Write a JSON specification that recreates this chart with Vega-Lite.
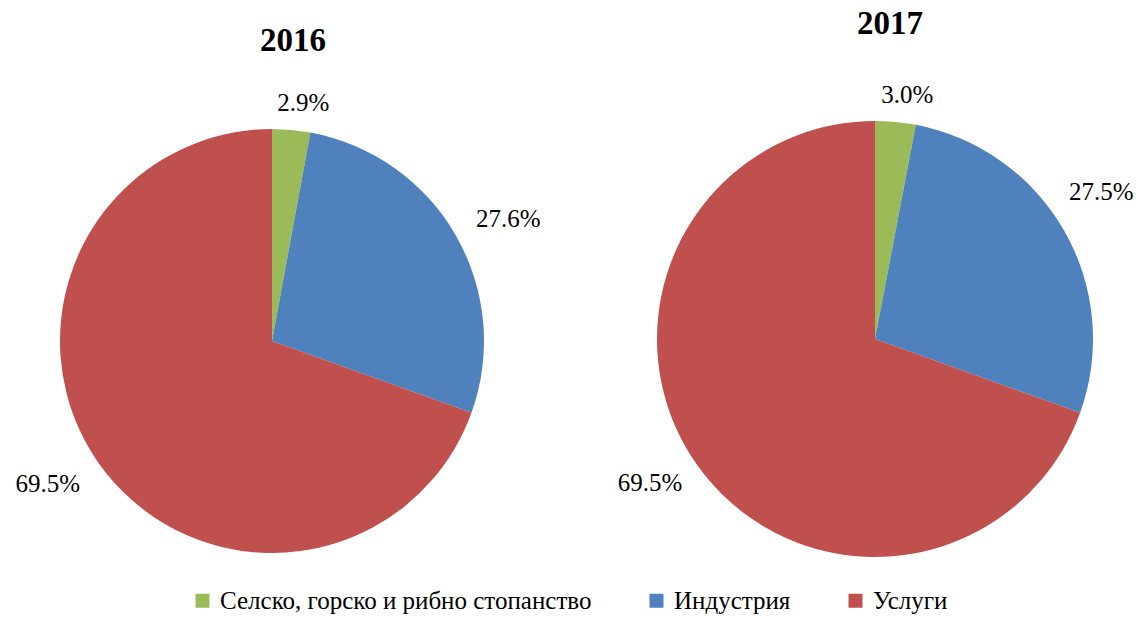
{
  "$schema": "https://vega.github.io/schema/vega-lite/v6.json",
  "padding": {"left": 0, "top": 8, "right": 0, "bottom": 0},
  "background": "white",
  "bounds": "flush",
  "spacing": 113,
  "datasets": {
    "shares": [
      {"year": 2016, "k": 1, "sector": "Селско, горско и рибно стопанство", "value": 2.9, "label": "2.9%"},
      {"year": 2016, "k": 2, "sector": "Индустрия", "value": 27.6, "label": "27.6%"},
      {"year": 2016, "k": 3, "sector": "Услуги", "value": 69.5, "label": "69.5%"},
      {"year": 2017, "k": 1, "sector": "Селско, горско и рибно стопанство", "value": 3.0, "label": "3.0%"},
      {"year": 2017, "k": 2, "sector": "Индустрия", "value": 27.5, "label": "27.5%"},
      {"year": 2017, "k": 3, "sector": "Услуги", "value": 69.5, "label": "69.5%"}
    ]
  },
  "data": {"name": "shares"},
  "hconcat": [
    {
      "width": 544,
      "height": 440,
      "title": {"text": "2016", "frame": "group", "anchor": "middle", "offset": 7, "dx": 21, "font": "Liberation Serif", "fontSize": 33, "fontWeight": "bold", "color": "black"},
      "transform": [{"filter": "datum.year == 2016"}],
      "layer": [
        {
          "mark": {"type": "arc", "outerRadius": 212},
          "encoding": {
            "theta": {"field": "value", "type": "quantitative", "stack": true},
            "order": {"field": "k", "type": "quantitative"},
            "color": {"field": "sector", "type": "nominal", "scale": {"domain": ["Селско, горско и рибно стопанство", "Индустрия", "Услуги"], "range": ["#9BBB59", "#4F81BD", "#C0504D"]}, "sort": null}
          }
        },
        {
          "mark": {"type": "text", "radius": 240, "thetaOffset": 0.04, "font": "Liberation Serif", "fontSize": 25, "color": "black", "align": "center", "baseline": "middle"},
          "encoding": {
            "theta": {"field": "value", "type": "quantitative", "stack": true},
            "order": {"field": "k", "type": "quantitative"},
            "text": {"condition": {"test": "datum.k == 1", "field": "label"}, "value": ""}
          }
        },
        {
          "mark": {"type": "text", "radius": 266, "thetaOffset": 0.045, "font": "Liberation Serif", "fontSize": 25, "color": "black", "align": "center", "baseline": "middle"},
          "encoding": {
            "theta": {"field": "value", "type": "quantitative", "stack": true},
            "order": {"field": "k", "type": "quantitative"},
            "text": {"condition": {"test": "datum.k != 1", "field": "label"}, "value": ""}
          }
        }
      ]
    },
    {
      "width": 436,
      "height": 436,
      "title": {"text": "2017", "frame": "group", "anchor": "middle", "offset": 16, "dx": 15, "font": "Liberation Serif", "fontSize": 33, "fontWeight": "bold", "color": "black"},
      "transform": [{"filter": "datum.year == 2017"}],
      "layer": [
        {
          "mark": {"type": "arc", "outerRadius": 218},
          "encoding": {
            "theta": {"field": "value", "type": "quantitative", "stack": true},
            "order": {"field": "k", "type": "quantitative"},
            "color": {"field": "sector", "type": "nominal", "scale": {"domain": ["Селско, горско и рибно стопанство", "Индустрия", "Услуги"], "range": ["#9BBB59", "#4F81BD", "#C0504D"]}, "sort": null}
          }
        },
        {
          "mark": {"type": "text", "radius": 246, "thetaOffset": 0.037, "font": "Liberation Serif", "fontSize": 25, "color": "black", "align": "center", "baseline": "middle"},
          "encoding": {
            "theta": {"field": "value", "type": "quantitative", "stack": true},
            "order": {"field": "k", "type": "quantitative"},
            "text": {"condition": {"test": "datum.k == 1", "field": "label"}, "value": ""}
          }
        },
        {
          "mark": {"type": "text", "radius": 270, "thetaOffset": -0.059, "font": "Liberation Serif", "fontSize": 25, "color": "black", "align": "center", "baseline": "middle"},
          "encoding": {
            "theta": {"field": "value", "type": "quantitative", "stack": true},
            "order": {"field": "k", "type": "quantitative"},
            "text": {"condition": {"test": "datum.k == 2", "field": "label"}, "value": ""}
          }
        },
        {
          "mark": {"type": "text", "radius": 267, "thetaOffset": 0.044, "font": "Liberation Serif", "fontSize": 25, "color": "black", "align": "center", "baseline": "middle"},
          "encoding": {
            "theta": {"field": "value", "type": "quantitative", "stack": true},
            "order": {"field": "k", "type": "quantitative"},
            "text": {"condition": {"test": "datum.k == 3", "field": "label"}, "value": ""}
          }
        }
      ]
    }
  ],
  "resolve": {"scale": {"color": "shared"}},
  "config": {
    "font": "Liberation Serif",
    "view": {"stroke": null},
    "legend": {
      "orient": "none",
      "legendX": 190,
      "legendY": 467,
      "padding": 0,
      "direction": "horizontal",
      "title": null,
      "symbolType": "square",
      "symbolSize": 196,
      "symbolStrokeWidth": 0,
      "symbolOpacity": 1,
      "labelFont": "Liberation Serif",
      "labelFontSize": 25,
      "labelColor": "black",
      "labelLimit": 1000,
      "labelOffset": 5,
      "columnPadding": 52
    }
  }
}
